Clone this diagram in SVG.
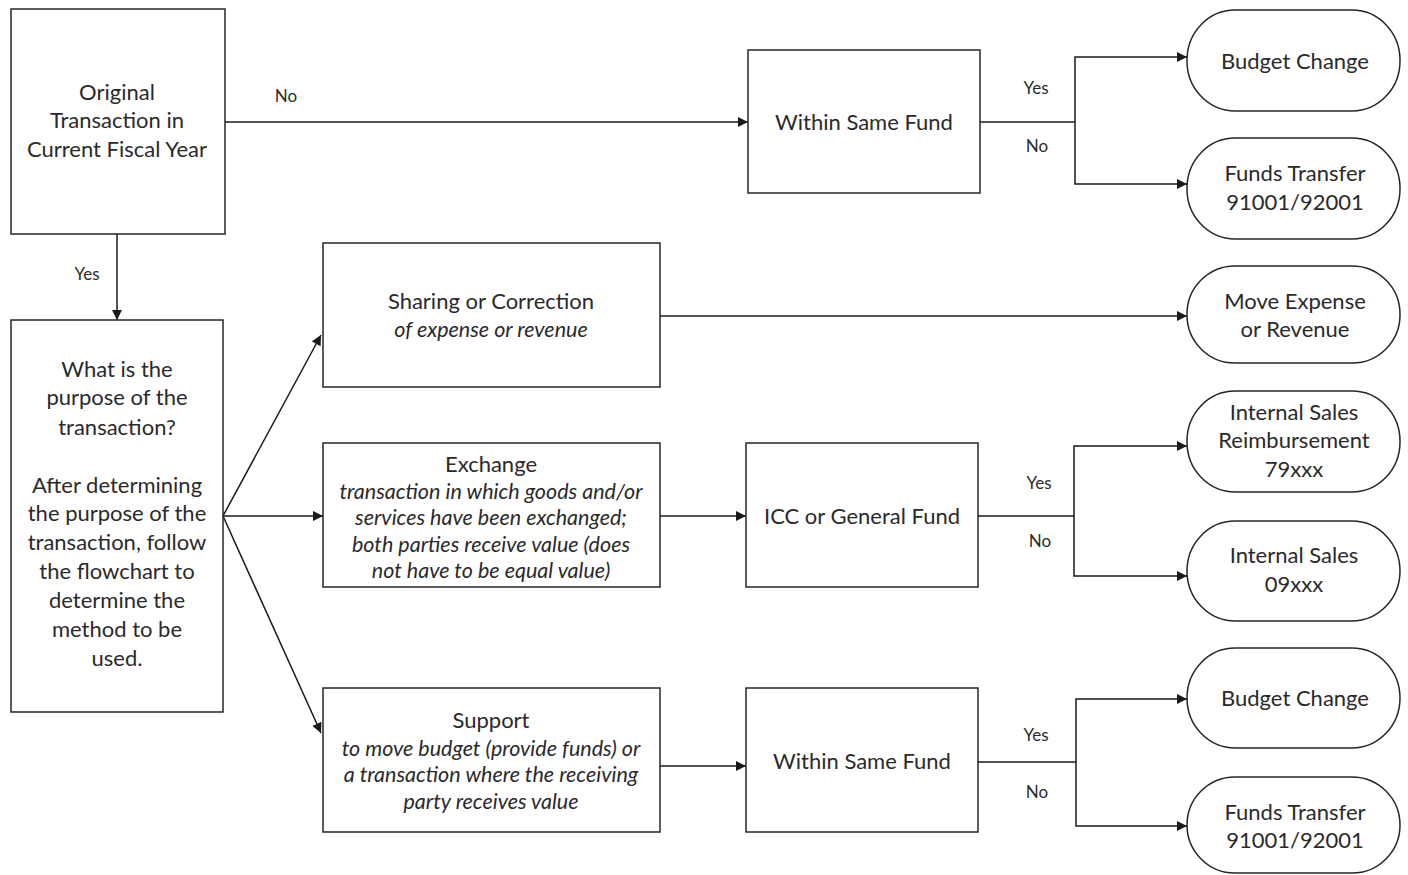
<svg xmlns="http://www.w3.org/2000/svg" width="1408" height="875" viewBox="0 0 1408 875">
<defs>
<marker id="ah" viewBox="0 0 10 10" refX="10" refY="5" markerWidth="12" markerHeight="10" markerUnits="userSpaceOnUse" orient="auto"><path d="M0,0 L10,5 L0,10 z" fill="#1a1a1a"/></marker>
<style>
.box{fill:#fff;stroke:#262626;stroke-width:1.5}
.t{font-family:Lato,"Open Sans",sans-serif;font-size:22px;fill:#2a2a2a;text-anchor:middle}
.i{font-style:italic;font-size:21.5px}
.l{font-family:Lato,"Open Sans",sans-serif;font-size:17px;fill:#2a2a2a;text-anchor:middle}
.c{fill:none;stroke:#1a1a1a;stroke-width:1.5}
.a{marker-end:url(#ah)}
</style>
</defs>
<rect width="1408" height="875" fill="#fff"/>
<g id="connectors">
<line class="c a" x1="225" y1="122" x2="748" y2="122"/>
<polyline class="c" points="980,122 1075,122"/>
<polyline class="c a" points="1075,122 1075,57 1187,57"/>
<polyline class="c a" points="1075,122 1075,184 1187,184"/>
<line class="c a" x1="117" y1="234" x2="117" y2="320"/>
<line class="c a" x1="223" y1="516" x2="321" y2="335"/>
<line class="c a" x1="223" y1="516" x2="323" y2="516"/>
<line class="c a" x1="223" y1="516" x2="321" y2="733"/>
<line class="c a" x1="660" y1="316" x2="1187" y2="316"/>
<line class="c a" x1="660" y1="516" x2="746" y2="516"/>
<polyline class="c" points="978,516 1074,516"/>
<polyline class="c a" points="1074,516 1074,446 1187,446"/>
<polyline class="c a" points="1074,516 1074,576 1187,576"/>
<line class="c a" x1="660" y1="766" x2="746" y2="766"/>
<polyline class="c" points="978,762 1076,762"/>
<polyline class="c a" points="1076,762 1076,699 1187,699"/>
<polyline class="c a" points="1076,762 1076,826 1187,826"/>
<text class="l" x="286" y="102">No</text>
<text class="l" x="1036" y="94">Yes</text>
<text class="l" x="1037" y="152">No</text>
<text class="l" x="87" y="280">Yes</text>
<text class="l" x="1039" y="489">Yes</text>
<text class="l" x="1040" y="547">No</text>
<text class="l" x="1036" y="741">Yes</text>
<text class="l" x="1037" y="798">No</text>
</g>
<g id="n-original">
<rect class="box" x="11" y="9" width="214" height="225"/>
<text class="t" x="117" y="100">Original</text>
<text class="t" x="117" y="128">Transaction in</text>
<text class="t" x="117" y="157">Current Fiscal Year</text>
</g>
<g id="n-same-fund-1">
<rect class="box" x="748" y="50" width="232" height="143"/>
<text class="t" x="864" y="130">Within Same Fund</text>
</g>
<g id="n-budget-change-1">
<rect class="box" x="1187" y="10" width="213" height="101" rx="48" ry="50"/>
<text class="t" x="1295" y="69">Budget Change</text>
</g>
<g id="n-funds-transfer-1">
<rect class="box" x="1187" y="138" width="213" height="101" rx="48" ry="50"/>
<text class="t" x="1295" y="181">Funds Transfer</text>
<text class="t" x="1295" y="210">91001/92001</text>
</g>
<g id="n-purpose">
<rect class="box" x="11" y="320" width="212" height="392"/>
<text class="t" x="117" y="377">What is the</text>
<text class="t" x="117" y="405">purpose of the</text>
<text class="t" x="117" y="435">transaction?</text>
<text class="t" x="117" y="493">After determining</text>
<text class="t" x="117" y="521">the purpose of the</text>
<text class="t" x="117" y="550">transaction, follow</text>
<text class="t" x="117" y="579">the flowchart to</text>
<text class="t" x="117" y="608">determine the</text>
<text class="t" x="117" y="637">method to be</text>
<text class="t" x="117" y="666">used.</text>
</g>
<g id="n-sharing">
<rect class="box" x="323" y="243" width="337" height="144"/>
<text class="t" x="491" y="309">Sharing or Correction</text>
<text class="t i" x="491" y="337">of expense or revenue</text>
</g>
<g id="n-move-expense">
<rect class="box" x="1187" y="266" width="213" height="97" rx="48" ry="48"/>
<text class="t" x="1295" y="309">Move Expense</text>
<text class="t" x="1295" y="337">or Revenue</text>
</g>
<g id="n-exchange">
<rect class="box" x="323" y="443" width="337" height="144"/>
<text class="t" x="491" y="472">Exchange</text>
<text class="t i" x="491" y="499">transaction in which goods and/or</text>
<text class="t i" x="491" y="525">services have been exchanged;</text>
<text class="t i" x="491" y="552">both parties receive value (does</text>
<text class="t i" x="491" y="578">not have to be equal value)</text>
</g>
<g id="n-icc">
<rect class="box" x="746" y="443" width="232" height="144"/>
<text class="t" x="862" y="524">ICC or General Fund</text>
</g>
<g id="n-internal-reimb">
<rect class="box" x="1187" y="391" width="213" height="101" rx="48" ry="50"/>
<text class="t" x="1294" y="420">Internal Sales</text>
<text class="t" x="1294" y="448">Reimbursement</text>
<text class="t" x="1294" y="477">79xxx</text>
</g>
<g id="n-internal-sales">
<rect class="box" x="1187" y="521" width="213" height="100" rx="48" ry="50"/>
<text class="t" x="1294" y="563">Internal Sales</text>
<text class="t" x="1294" y="592">09xxx</text>
</g>
<g id="n-support">
<rect class="box" x="323" y="688" width="337" height="144"/>
<text class="t" x="491" y="728">Support</text>
<text class="t i" x="491" y="756">to move budget (provide funds) or</text>
<text class="t i" x="491" y="782">a transaction where the receiving</text>
<text class="t i" x="491" y="809">party receives value</text>
</g>
<g id="n-same-fund-2">
<rect class="box" x="746" y="688" width="232" height="144"/>
<text class="t" x="862" y="769">Within Same Fund</text>
</g>
<g id="n-budget-change-2">
<rect class="box" x="1187" y="648" width="213" height="100" rx="48" ry="50"/>
<text class="t" x="1295" y="706">Budget Change</text>
</g>
<g id="n-funds-transfer-2">
<rect class="box" x="1187" y="777" width="213" height="96" rx="48" ry="48"/>
<text class="t" x="1295" y="820">Funds Transfer</text>
<text class="t" x="1295" y="848">91001/92001</text>
</g>
</svg>
